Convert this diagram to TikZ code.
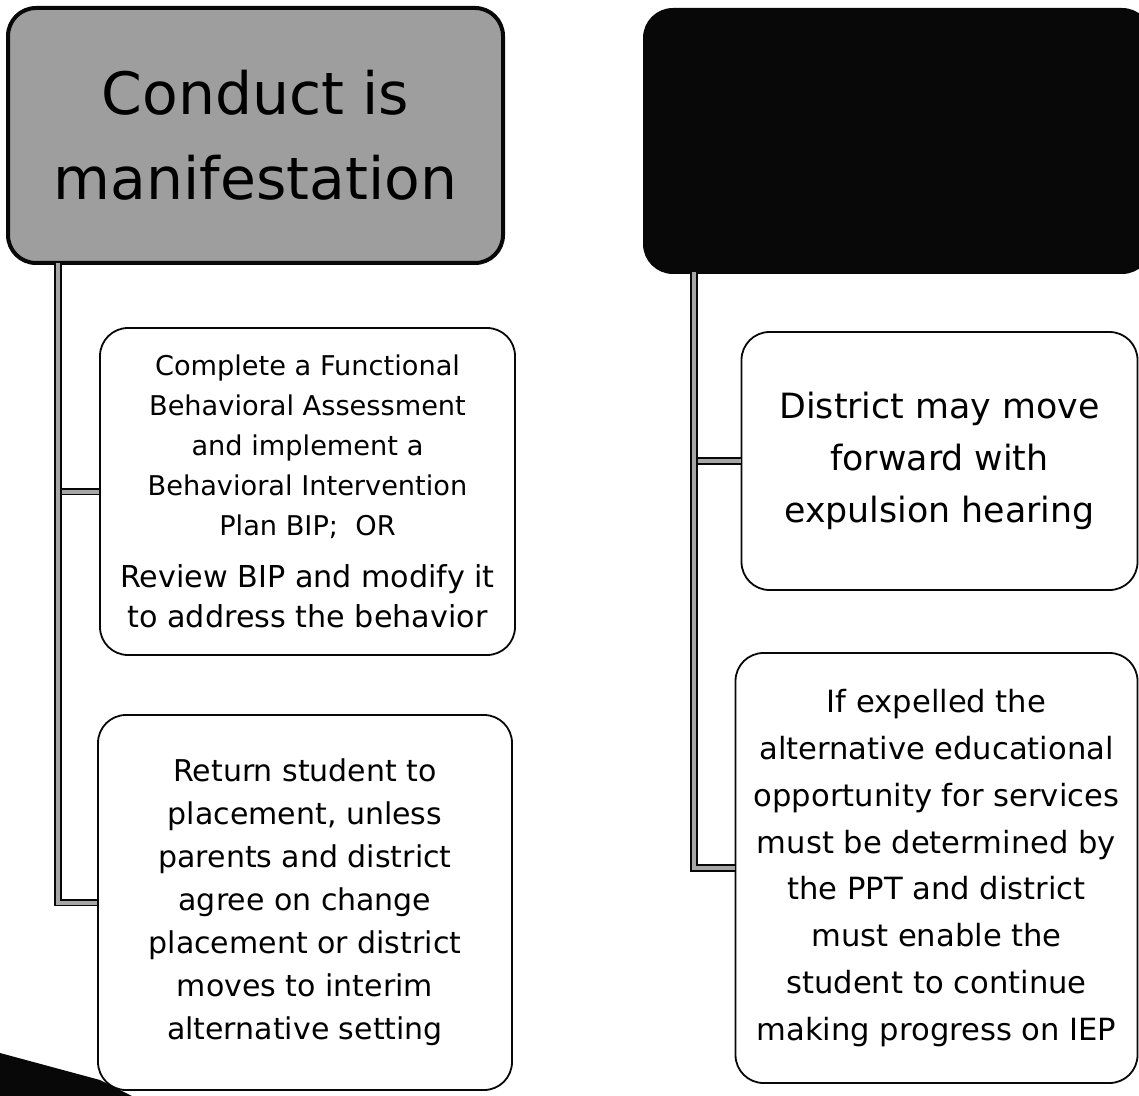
\documentclass[tikz,border=0pt]{standalone}
\usepackage{fontspec}
\setmainfont{DejaVu Sans}
\usetikzlibrary{positioning}
\definecolor{headgray}{RGB}{158,158,158}
\definecolor{scanblack}{RGB}{8,8,8}
\tikzset{
headblock/.style={
  draw=scanblack,
  line width=2pt,
  rounded corners=14pt,
  align=center,
  text=black
},
stepblock/.style={
  draw=scanblack,
  line width=0.9pt,
  rounded corners=14pt,
  fill=white,
  align=center,
  text=black
},
trunk/.style={
  draw=scanblack,
  line width=0.8pt,
  double=black!35,
  double distance=2pt
}
}
\newcommand{\smalltext}{\fontsize{13.6}{20}\selectfont}
\newcommand{\bigtext}{\fontsize{15.1}{20}\selectfont}

\begin{document}
\begin{tikzpicture}[x=0.5pt, y=-0.5pt]
\useasboundingbox (0,0) rectangle (1139,1096);

% header boxes
\node[headblock, fill=headgray, minimum width=247.5pt, minimum height=127.5pt,
  font=\fontsize{29.2}{42.5}\selectfont] (manif) at (255.5,135.5) {Conduct is\\manifestation};
\node[headblock, fill=scanblack, minimum width=252.5pt, minimum height=131pt] (notmanif) at (897.5,141) {};

% trunk start points under the headers
\coordinate (trunkL) at (58,263);
\coordinate (trunkR) at (694,272);

% left column
\node[stepblock, minimum width=207.5pt, minimum height=163.5pt, font=\smalltext] (fbabox) at (307.5,491.5)
  {Complete a Functional\\Behavioral Assessment\\and implement a\\Behavioral Intervention\\Plan BIP;\ \ OR\\[6pt]
   \bigtext Review BIP and modify it\\\bigtext to address the behavior};
\node[stepblock, minimum width=207pt, minimum height=187.5pt,
  font=\fontsize{15}{21.5}\selectfont] (returnbox) at (305,902.5)
  {Return student to\\placement, unless\\parents and district\\agree on change\\placement or district\\moves to interim\\alternative setting};

% right column
\node[stepblock, minimum width=198pt, minimum height=129pt,
  font=\fontsize{17.4}{26}\selectfont] (hearingbox) at (939.5,461)
  {District may move\\forward with\\expulsion hearing};
\node[stepblock, minimum width=201pt, minimum height=215pt,
  font=\fontsize{15.3}{23.4}\selectfont] (expelbox) at (936.5,868)
  {If expelled the\\alternative educational\\opportunity for services\\must be determined by\\the PPT and district\\must enable the\\student to continue\\making progress on IEP};

% connectors
\draw[trunk] (trunkL) |- (fbabox.west);
\draw[trunk] (trunkL) |- (returnbox.west);
\draw[trunk] (trunkR) |- (hearingbox.west);
\draw[trunk] (trunkR) |- (expelbox.west);

% scan edge in the corner
\fill[scanblack] (0,1053) -- (100,1080) -- (132,1096) -- (0,1096) -- cycle;
\end{tikzpicture}
\end{document}
